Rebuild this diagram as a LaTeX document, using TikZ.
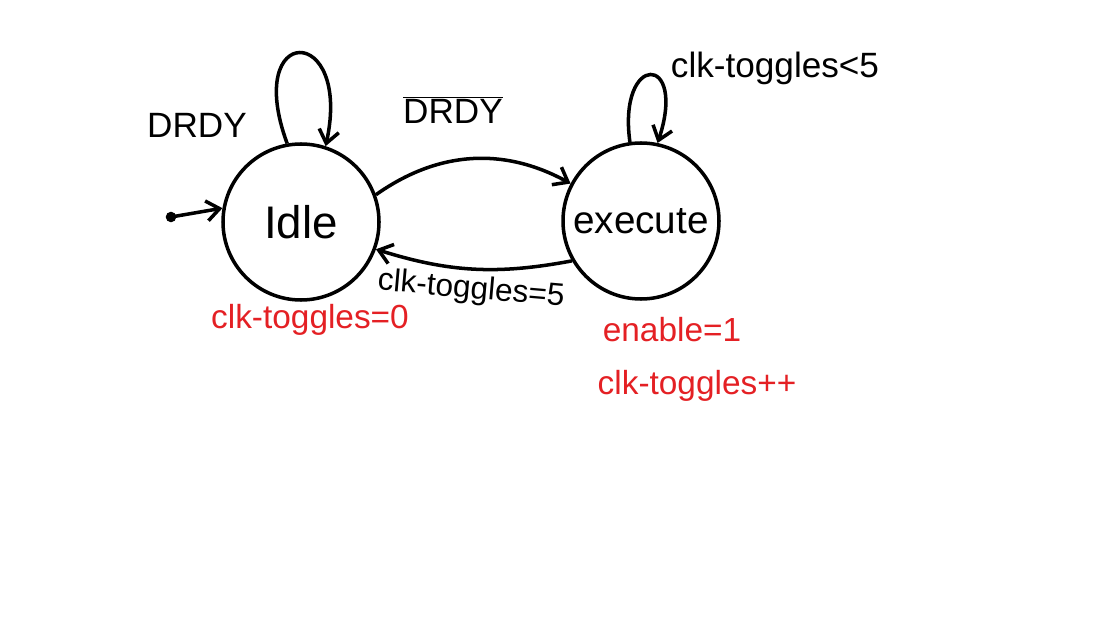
\documentclass[tikz,border=0pt]{standalone}
\usepackage{fontspec}
\setmainfont{Liberation Sans}
\usetikzlibrary{arrows.meta}

\definecolor{penred}{RGB}{228,32,36}

\begin{document}
\begin{tikzpicture}[>={Straight Barb[length=2.6mm, width=4mm]}, line width=2pt,
  state/.style={draw, circle, minimum size=3.12cm, inner sep=0pt, font=\fontsize{26}{30}\selectfont},
  cond/.style={font=\fontsize{20}{24}\selectfont},
  action/.style={font=\fontsize{19}{23}\selectfont, text=penred}]
  \useasboundingbox (0,0) rectangle (22.14,-12.62);

  \node[state] (idle) at (6.02,-4.44) {Idle};
  \node[state, font=\fontsize{22}{26}\selectfont] (exec) at (12.82,-4.42) {execute};
  \coordinate (start) at (3.42,-4.34);

  % initial state
  \fill (start) circle (3pt);
  \draw[->] (start) -- (idle.170);

  % self loops
  \draw[->] (idle.100) .. controls (4.85,-0.45) and (7.05,-0.45) .. (idle.72);
  \node[cond] (drdy) at (3.94,-2.5) {DRDY};

  \draw[->] (exec.98) .. controls (12.35,-1.05) and (13.75,-1.05) .. (exec.78);
  \node[cond] (lt) at (15.5,-1.36) {clk-toggles<5};

  % transitions
  \draw[->] (idle.20) to[bend left=32] (exec.152);
  \node[cond] (ndrdy) at (9.06,-2.2) {$\overline{\mbox{DRDY}}$};

  \draw[->] (exec.210) to[bend left=14] (idle.340);
  \node[cond, rotate=-5, font=\fontsize{18}{22}\selectfont] (eq) at (9.42,-5.8) {clk-toggles=5};

  % actions
  \node[action] (reset) at (6.2,-6.4) {clk-toggles=0};
  \node[action] (en) at (13.44,-6.6) {enable=1};
  \node[action] (inc) at (13.94,-7.72) {clk-toggles++};
\end{tikzpicture}
\end{document}
